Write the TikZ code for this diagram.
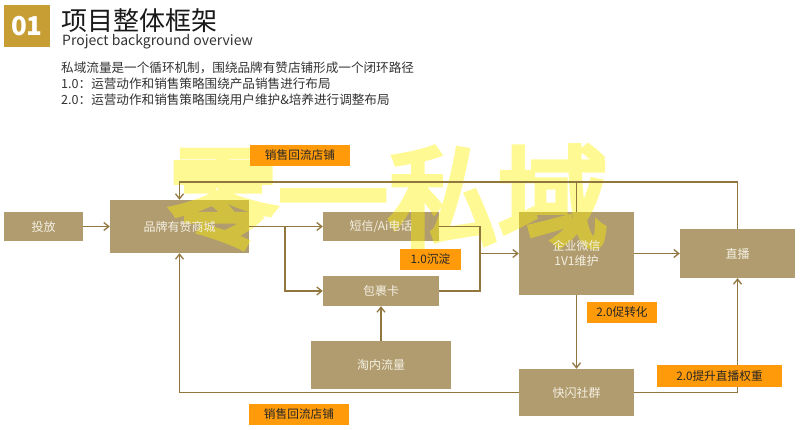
\documentclass[tikz,border=0pt]{standalone}
\usepackage{fontspec}
\setmainfont{Noto Sans CJK SC}
\newfontfamily\markfont{Noto Sans CJK SC}[FakeBold=5]
\usetikzlibrary{arrows.meta,backgrounds}
\definecolor{tan}{RGB}{176,156,110}
\definecolor{linebrown}{RGB}{145,118,62}
\definecolor{tagorange}{RGB}{255,155,10}
\definecolor{gold}{RGB}{198,158,52}
\definecolor{cream}{RGB}{245,240,228}

\begin{document}
\begin{tikzpicture}[x=1pt,y=-1pt,
  box/.style={inner sep=0pt, align=center, text=cream, font=\fontsize{12}{15}\selectfont},
  tag/.style={fill=tagorange, inner sep=0pt, minimum height=21pt, text=black!85, font=\fontsize{11.7}{14}\selectfont},
  line/.style={anchor=west, inner sep=0pt, text=black!80, font=\fontsize{12.6}{15}\selectfont},
  link/.style={draw=linebrown, line width=1.3pt},
  arr/.style={link, -{Straight Barb[length=5pt,width=8pt]}}
]
\useasboundingbox (0,0) rectangle (800,430);
\node[fill=gold, minimum width=46pt, minimum height=42pt, inner sep=0pt, text=white, font=\fontsize{26}{28}\selectfont\bfseries] (num) at (27,26) {01};
\node[anchor=base west, inner sep=0pt, text=black!90, font=\fontsize{26}{28}\selectfont] (title) at (61,31) {项目整体框架};
\node[anchor=base west, inner sep=0pt, text=black!80, font=\fontsize{14}{16}\selectfont] (sub) at (62,45.5) {Project background overview};
\node[line] (l1) at (61,68) {私域流量是一个循环机制，围绕品牌有赞店铺形成一个闭环路径};
\node[line] (l2) at (61,84) {1.0：运营动作和销售策略围绕产品销售进行布局};
\node[line] (l3) at (61,100) {2.0：运营动作和销售策略围绕用户维护\&培养进行调整布局};

\node[box, minimum width=79pt, minimum height=29pt] (tf) at (43.5,226.5) {投放};
\node[box, minimum width=139pt, minimum height=53pt] (sc) at (179.5,226.5) {品牌有赞商城};
\node[box, minimum width=116pt, minimum height=29pt] (dx) at (381,226.5) {短信/Ai电话};
\node[box, minimum width=116pt, minimum height=30pt] (bg) at (381,291) {包裹卡};
\node[box, minimum width=115pt, minimum height=83pt] (wx) at (576.5,253.5) {企业微信\\1V1维护};
\node[box, minimum width=115pt, minimum height=49pt] (zb) at (737.5,253.5) {直播};
\node[box, minimum width=140pt, minimum height=48pt] (tn) at (381,365) {淘内流量};
\node[box, minimum width=115pt, minimum height=47pt] (ks) at (576.5,392.5) {快闪社群};

\begin{scope}[on background layer]
\fill[white] (0,0) rectangle (800,430);
\foreach \b in {tf,sc,dx,bg,wx,zb,tn,ks}
  \fill[tan] (\b.south west) rectangle (\b.north east);
\begin{scope}[transparency group, opacity=0.42]
\node[inner sep=0pt, text=yellow, font=\markfont\fontsize{110}{112}\selectfont] (mark) at (388,197) {零一私域};
\end{scope}
\end{scope}

\coordinate (fork) at (285,226.5);
\coordinate (merge) at (480,253.5);
\coordinate (loop) at (0,182);
\draw[arr] (tf) -- (sc);
\draw[link] (sc.east) -- (fork);
\draw[arr] (fork) -- (dx);
\draw[arr] (fork) |- (bg);
\draw[link] (dx.east) -| (merge);
\draw[link] (bg.east) -| (merge);
\draw[arr] (merge) -- (wx);
\draw[arr] (wx) -- (zb);
\draw[arr] (zb.north) |- (sc.north |- loop) -- (sc.north);
\draw[link] (wx.north) -- (wx.north |- loop);
\draw[arr] (wx) -- (ks);
\draw[arr] (ks.east) -| (zb.south);
\draw[arr] (ks.west) -| (sc.south);
\draw[arr] (tn) -- (bg);

\node[tag, minimum width=100pt] (back1) at (300,155.5) {销售回流店铺};
\node[tag, minimum width=61pt] (keep) at (430.5,259.5) {1.0沉淀};
\node[tag, minimum width=70pt] (conv) at (622,312.5) {2.0促转化};
\node[tag, minimum width=125pt, minimum height=22pt] (rank) at (719.5,376) {2.0提升直播权重};
\node[tag, minimum width=100pt] (back2) at (299,414.5) {销售回流店铺};
\end{tikzpicture}
\end{document}
